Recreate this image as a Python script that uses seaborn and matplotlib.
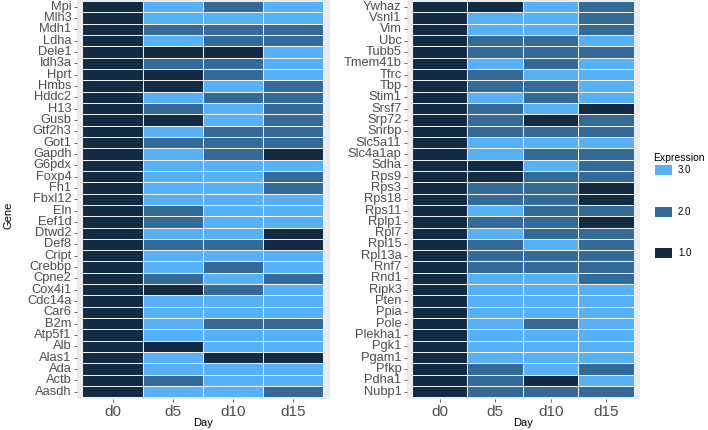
import matplotlib
matplotlib.use("Agg")
import matplotlib.pyplot as plt
from matplotlib.colors import ListedColormap
from matplotlib.patches import Patch
import seaborn as sns
import pandas as pd

days = ["d0", "d5", "d10", "d15"]

genes_left = ["Mpi", "Mlh3", "Mdh1", "Ldha", "Dele1", "Idh3a", "Hprt", "Hmbs", "Hddc2", "H13",
              "Gusb", "Gtf2h3", "Got1", "Gapdh", "G6pdx", "Foxp4", "Fh1", "Fbxl12", "Eln", "Eef1d",
              "Dtwd2", "Def8", "Cript", "Crebbp", "Cpne2", "Cox4i1", "Cdc14a", "Car6", "B2m", "Atp5f1",
              "Alb", "Alas1", "Ada", "Actb", "Aasdh"]
expr_left = [
    [1, 3, 2, 3], [1, 3, 3, 3], [1, 2, 2, 2], [1, 3, 2, 2], [1, 1, 1, 3],
    [1, 2, 2, 3], [1, 1, 2, 3], [1, 1, 3, 2], [1, 3, 2, 2], [1, 2, 3, 2],
    [1, 1, 3, 2], [1, 3, 2, 2], [1, 2, 2, 2], [1, 3, 2, 1], [1, 3, 3, 3],
    [1, 3, 3, 2], [1, 3, 3, 2], [1, 3, 3, 3], [1, 2, 3, 3], [1, 2, 3, 3],
    [1, 3, 3, 1], [1, 2, 2, 1], [1, 3, 3, 3], [1, 3, 2, 3], [1, 2, 3, 2],
    [1, 1, 2, 3], [1, 3, 3, 3], [1, 3, 3, 3], [1, 3, 2, 2], [1, 3, 3, 3],
    [1, 1, 3, 3], [1, 3, 1, 1], [1, 3, 3, 3], [1, 2, 3, 3], [1, 3, 3, 2],
]

genes_right = ["Ywhaz", "Vsnl1", "Vim", "Ubc", "Tubb5", "Tmem41b", "Tfrc", "Tbp", "Stim1", "Srsf7",
               "Srp72", "Snrbp", "Slc5a11", "Slc4a1ap", "Sdha", "Rps9", "Rps3", "Rps18", "Rps11", "Rplp1",
               "Rpl7", "Rpl15", "Rpl13a", "Rnf7", "Rnd1", "Ripk3", "Pten", "Ppia", "Pole", "Plekha1",
               "Pgk1", "Pgam1", "Pfkp", "Pdha1", "Nubp1"]
expr_right = [
    [1, 1, 3, 2], [1, 3, 3, 2], [1, 3, 3, 2], [1, 2, 2, 3], [1, 2, 2, 2],
    [1, 3, 2, 3], [1, 2, 3, 3], [1, 2, 2, 3], [1, 3, 2, 3], [1, 2, 3, 1],
    [1, 2, 1, 2], [1, 2, 2, 2], [1, 3, 3, 3], [1, 3, 2, 2], [1, 1, 3, 2],
    [1, 1, 2, 2], [1, 2, 2, 1], [1, 2, 2, 1], [1, 3, 2, 2], [1, 2, 2, 1],
    [1, 3, 2, 2], [1, 2, 3, 2], [1, 2, 2, 2], [1, 2, 2, 2], [1, 3, 3, 2],
    [1, 3, 3, 3], [1, 3, 3, 3], [1, 3, 3, 3], [1, 3, 2, 3], [1, 3, 3, 3],
    [1, 3, 3, 3], [1, 3, 3, 3], [1, 2, 3, 2], [1, 2, 1, 3], [1, 2, 2, 2],
]

levels = [3.0, 2.0, 1.0]
level_colors = ["#56B1F7", "#336A98", "#132B43"]

plt.rcParams["font.family"] = ["Liberation Sans", "DejaVu Sans"]
cmap = ListedColormap(level_colors[::-1])

fig = plt.figure(figsize=(7.08, 4.30), dpi=100)
W, H = 708, 430


def draw_panel(genes, values, box):
    x0, x1, y0, y1 = box
    ax = fig.add_axes([x0 / W, 1 - y1 / H, (x1 - x0) / W, (y1 - y0) / H])
    df = pd.DataFrame(values, index=genes, columns=days)
    sns.heatmap(df, ax=ax, cmap=cmap, vmin=0.5, vmax=3.5, cbar=False,
                linewidths=0.6, linecolor="#F2F2F2", yticklabels=True)
    ax.set_facecolor("#EBEBEB")
    ax.set_xlim(-0.09, 4.11)
    ax.set_ylim(len(genes) + 0.15, -0.1)
    ax.tick_params(axis="y", labelsize=9.3, colors="#4D4D4D", length=2.5, width=0.6, pad=1.5)
    ax.tick_params(axis="x", labelsize=11, colors="#4D4D4D", length=2.5, width=0.6, pad=2)
    for lab in ax.get_yticklabels():
        lab.set_rotation(0)
    for lab in ax.get_xticklabels():
        lab.set_rotation(0)
    ax.set_xlabel("")
    ax.set_ylabel("")
    for s in ax.spines.values():
        s.set_visible(False)
    fig.text((x0 + x1) / 2 / W, 1 - 423 / H, "Day", ha="center", va="center", fontsize=8)
    return ax


draw_panel(genes_left, expr_left, (77, 330, 0, 399))
draw_panel(genes_right, expr_right, (407, 640, 0, 399))
fig.text(8 / W, 1 - 215 / H, "Gene", rotation=90, ha="center", va="center", fontsize=8)

# legend: title as separate text so the gap to the first key stays small
fig.text(653 / W, 1 - 158 / H, "Expression", ha="left", va="center", fontsize=7.5)
handles = [Patch(facecolor=c, edgecolor="none") for c in level_colors]
fig.legend(handles, [f"{v:.1f}" for v in levels],
           loc="upper left", bbox_to_anchor=(655 / W, 1 - 165 / H), frameon=False,
           fontsize=7, handlelength=1.75, handleheight=1.25,
           labelspacing=3.2, handletextpad=0.6, borderaxespad=0, borderpad=0)

fig.savefig("out.png", dpi=100)
